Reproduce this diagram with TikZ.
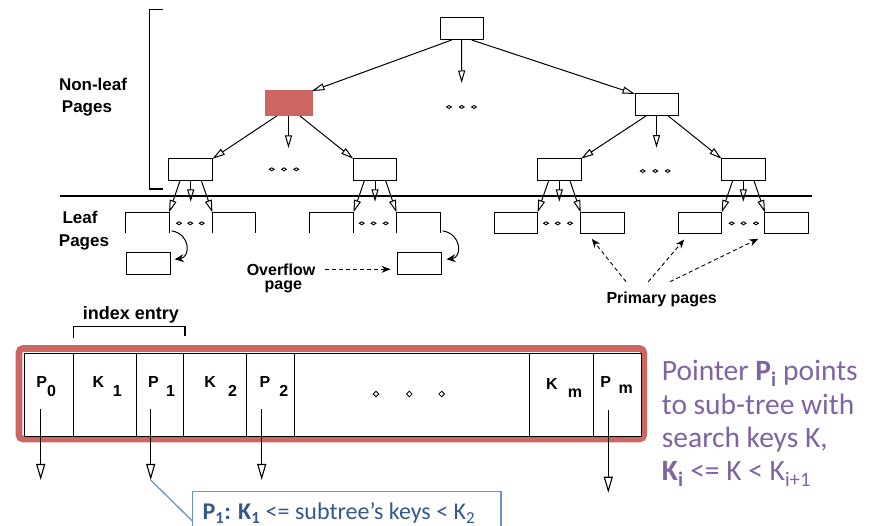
\documentclass[tikz,border=0pt]{standalone}
\usepackage{fontspec}
\setmainfont{Liberation Sans}
\newfontfamily\notefont{Carlito}
\usetikzlibrary{arrows.meta,calc}
\definecolor{pagered}{RGB}{205,102,96}
\definecolor{notepurple}{RGB}{128,100,162}
\definecolor{noteblue}{RGB}{50,90,140}
\definecolor{calloutblue}{RGB}{100,150,205}
\begin{document}
\begin{tikzpicture}[x=1pt,y=-1pt,
  page/.style={draw,line width=1pt,inner sep=0pt,outer sep=0pt,minimum width=43.5pt,minimum height=21.6pt},
  openpage/.style={inner sep=0pt,outer sep=0pt,minimum width=43.5pt,minimum height=21pt},
  treearrow/.style={line width=1pt,-{Triangle[open,length=12.5pt,width=7pt,line width=1pt]}},
  ptrarrow/.style={line width=1.1pt,-{Triangle[open,length=16pt,width=9pt,line width=1.1pt]}},
  dasharrow/.style={line width=0.9pt,dash pattern=on 4pt off 3pt,-{Stealth[length=9pt,width=7pt]}},
  bendarrow/.style={line width=1pt,-{Stealth[length=9pt,width=8pt,inset=3pt]}},
  sidelabel/.style={font=\bfseries\fontsize{17}{19}\selectfont,inner sep=0pt},
  cell/.style={draw,line width=1pt,fill=white,inner sep=0pt,outer sep=0pt,minimum height=83.4pt},
  celltext/.style={font=\bfseries\fontsize{16}{18}\selectfont,inner sep=0pt,anchor=base west},
  notetext/.style={font=\notefont\fontsize{29.5}{33}\selectfont,text=notepurple,inner sep=0pt,anchor=base west},
  treedot/.pic={\draw[line width=0.9pt] (-2.4,0)--(0,-1.5)--(2.4,0)--(0,1.5)--cycle;},
  tabledot/.pic={\draw[line width=0.8pt] (-2.8,0)--(0,-2.8)--(2.8,0)--(0,2.8)--cycle;},
]
\useasboundingbox (0,0) rectangle (876,526);

% ---------- B+ tree ----------
\draw[line width=1.8pt] (163,9.5) -- (149.5,9.5) -- (149.5,189) -- (163,189);
\node[sidelabel] (nonleaf) at (93,84) {Non-leaf};
\node[sidelabel] (nonleafpg) at (87,108) {Pages};
\draw[line width=1.2pt] (60,196) -- (811.7,196);
\node[sidelabel] (leaf) at (80,217) {Leaf};
\node[sidelabel] (leafpg) at (84,242.7) {Pages};

\node[page,minimum width=43pt,minimum height=22pt] (root) at (461.5,29) {};
\node[page,draw=pagered,fill=pagered,minimum width=47pt,minimum height=25pt] (red) at (288.5,103.5) {};
\node[page,minimum width=43pt,minimum height=22pt] (rmid) at (656.5,105) {};

\node[page] (A) at (190.7,169.5) {};
\node[page] (B) at (375,169.5) {};
\node[page] (C) at (559.3,169.5) {};
\node[page] (D) at (743.3,169.5) {};

\coordinate (rootdown) at (461.7,83);
\draw[treearrow] ([xshift=-9.8pt]root.south) -- (red.north east);
\draw[treearrow] (root.south) -- (rootdown);
\draw[treearrow] ([xshift=10.2pt]root.south) -- (rmid.north west);

\coordinate (reddown) at (288.5,148);
\draw[treearrow] ([xshift=-11.8pt]red.south) -- (A.north east);
\draw[treearrow] (red.south) -- (reddown);
\draw[treearrow] ([xshift=11.5pt]red.south) -- (B.north west);

\coordinate (rmiddown) at (656.5,147.7);
\draw[treearrow] ([xshift=-10.5pt]rmid.south) -- (C.north east);
\draw[treearrow] (rmid.south) -- (rmiddown);
\draw[treearrow] ([xshift=11.8pt]rmid.south) -- (D.north west);

\foreach \x in {449,461.7,474} \pic at (\x,107) {treedot};
\foreach \x in {271.7,284,296.3} \pic at (\x,169.3) {treedot};
\foreach \x in {642.7,655.3,667.7} \pic at (\x,171) {treedot};

% leaf pages
\node[openpage] (A1) at (147.3,223) {};
\node[openpage] (A2) at (234.2,223) {};
\node[openpage] (B1) at (331.7,223) {};
\node[openpage] (B2) at (418.3,223) {};
\foreach \n in {A1,A2,B1,B2}
  \draw[line width=1pt] (\n.south west) |- (\n.north east) -- (\n.south east);
\node[page,minimum height=21pt] (C1) at (515.8,223) {};
\node[page,minimum height=21pt] (C2) at (602.5,223) {};
\node[page,minimum height=21pt] (D1) at (700,223) {};
\node[page,minimum height=21pt] (D2) at (786.7,223) {};

\foreach \p/\l/\r in {A/A1/A2,B/B1/B2,C/C1/C2,D/D1/D2}{
  \draw[treearrow] ([xshift=-10.5pt]\p.south) -- (\l.north east);
  \draw[treearrow] (\p.south) -- ++(0,21.5);
  \draw[treearrow] ([xshift=10.5pt]\p.south) -- (\r.north west);
}
\foreach \x in {179,190.3,201.7, 361.7,373.5,385.7, 546,557.7,570, 731.7,743.5,756}
  \pic at (\x,223.3) {treedot};

% overflow pages
\node[page] (OA) at (148.7,263.5) {};
\node[page] (OB) at (419.3,263.5) {};
\draw[bendarrow] ([xshift=2.6pt,yshift=2.6pt]A1.south east)
  .. controls +(19,3) and +(16,-2) .. ([xshift=4.3pt,yshift=4.2pt]OA.east);
\draw[bendarrow] ([xshift=2.6pt,yshift=2.6pt]B2.south east)
  .. controls +(19,3) and +(16,-2) .. ([xshift=5.5pt,yshift=4.2pt]OB.east);

\node[sidelabel,font=\bfseries\fontsize{16}{18}\selectfont] (ovf) at (281,269.3) {Overflow};
\node[sidelabel,font=\bfseries\fontsize{16}{18}\selectfont] (ovfpage) at (283.3,287) {page};
\draw[dasharrow,shorten <=10pt,shorten >=7pt] (ovf.east) -- (ovf.east -| OB.west);

\node[sidelabel,font=\bfseries\fontsize{16}{18}\selectfont] (prim) at (661.7,299.3) {Primary pages};
\coordinate (pa) at (626,281.7);
\coordinate (pb) at (648.3,281.7);
\coordinate (pc) at (670,281.7);
\draw[dasharrow] (pa) -- ([xshift=11pt,yshift=-5.3pt]C2.south west);
\draw[dasharrow] (pb) -- ([xshift=6pt,yshift=-6pt]D1.south west);
\draw[dasharrow] (pc) -- ([xshift=-6.7pt,yshift=-5.3pt]D2.south west);

% ---------- index page ----------
\node[sidelabel,font=\bfseries\fontsize{18}{20}\selectfont] (entry) at (131,315) {index entry};
\draw[line width=1.2pt] (73.3,338) -- (73.3,326.7) -- (185,326.7) -- (185,336);

\draw[pagered,line width=6.6pt,rounded corners=4pt] (19,348.5) rectangle (643.7,439);
\node[cell,minimum width=49pt]   (c0) at (48.8,395) {};
\node[cell,minimum width=62.7pt] (c1) at (104.65,395) {};
\node[cell,minimum width=47.3pt] (c2) at (159.65,395) {};
\node[cell,minimum width=63.4pt] (c3) at (215,395) {};
\node[cell,minimum width=47.6pt] (c4) at (270.5,395) {};
\node[cell,minimum width=235pt]  (c5) at (411.8,395) {};
\node[cell,minimum width=64pt]   (c6) at (561.3,395) {};
\node[cell,minimum width=47.7pt] (c7) at (617.15,395) {};

\node[celltext] (l0) at (36.2,388) {P\raisebox{-8.5pt}{0}};
\node[celltext] (l1) at (92.5,388) {K\hspace{8.6pt}\raisebox{-8.5pt}{1}};
\node[celltext] (l2) at (147.8,388) {P\hspace{7.4pt}\raisebox{-8.5pt}{1}};
\node[celltext] (l3) at (204.1,388) {K\hspace{12.2pt}\raisebox{-8.5pt}{2}};
\node[celltext] (l4) at (259.5,388) {P\hspace{9pt}\raisebox{-8.5pt}{2}};
\node[celltext] (l6) at (545.8,389.3) {K\hspace{10.3pt}\raisebox{-8.4pt}{m}};
\node[celltext] (l7) at (600.2,387.7) {P\hspace{7.6pt}\raisebox{-5.6pt}{m}};
\foreach \x in {376,409.3,441.7} \pic at (\x,394) {tabledot};

\coordinate (s0) at (40.7,409.3);  \coordinate (e0) at (40.7,480);
\coordinate (s1) at (150.7,409.3); \coordinate (e1) at (150.7,480);
\coordinate (s2) at (261.7,409.3); \coordinate (e2) at (261.7,480);
\coordinate (sm) at (608.3,410);   \coordinate (em) at (608.3,492.7);
\foreach \i in {0,1,2,m} \draw[ptrarrow] (s\i) -- (e\i);

% callout for P1
\node[draw=calloutblue,line width=1.6pt,fill=white,inner sep=0pt,outer sep=0pt,
      minimum width=308.5pt,minimum height=60pt,anchor=north west] (callout) at (192.5,491.7) {};
\draw[calloutblue,line width=1.3pt] (e1) -- ([yshift=-29.5pt]callout.north west);
\node[anchor=base west,inner sep=0pt,text=noteblue,font=\notefont\fontsize{24}{27}\selectfont] (calltext) at (202.3,519.3)
  {\textbf{P\textsubscript{1}: K\textsubscript{1}} <= subtree’s keys < K\textsubscript{2}};

% note on the right
\node[notetext] (note1) at (661.7,381) {Pointer \textbf{P\textsubscript{i}} points};
\node[notetext] (note2) at (661.7,414.3) {to sub-tree with};
\node[notetext] (note3) at (661.7,447.7) {search keys K,};
\node[notetext] (note4) at (661.7,481) {\textbf{K\textsubscript{i}} <= K < K\textsubscript{i+1}};
\end{tikzpicture}
\end{document}
